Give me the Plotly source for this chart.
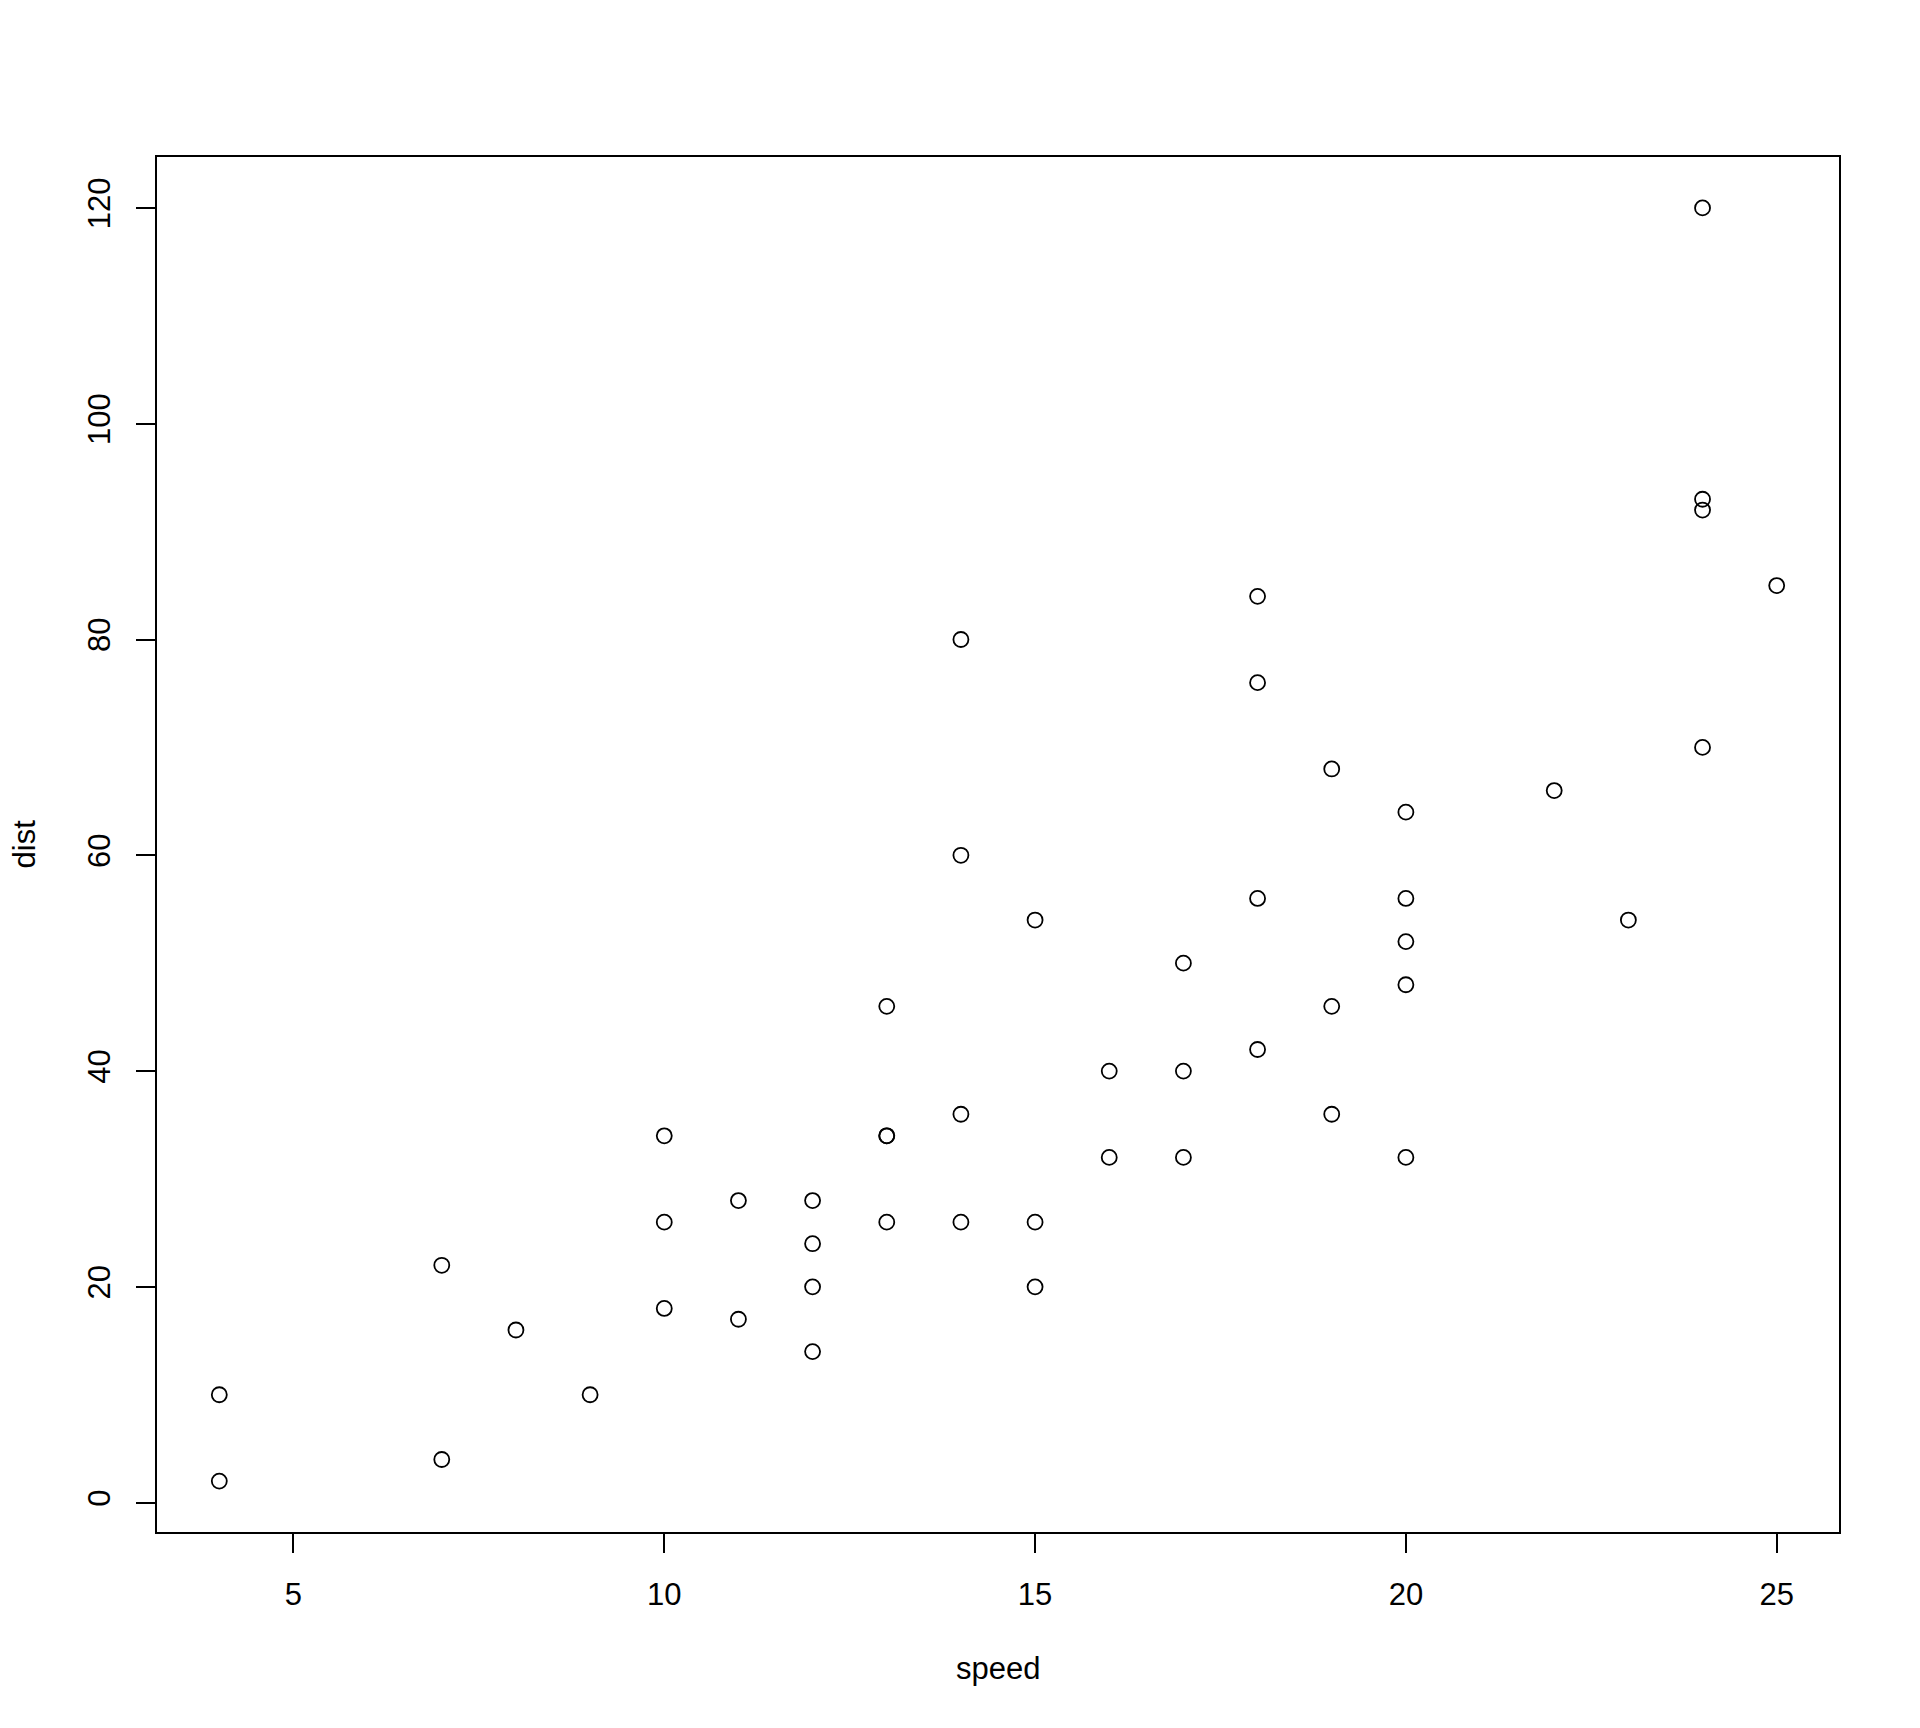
import plotly.graph_objects as go

speed = [4, 4, 7, 7, 8, 9, 10, 10, 10, 11, 11, 12, 12, 12, 12, 13, 13, 13, 13, 14,
         14, 14, 14, 15, 15, 15, 16, 16, 17, 17, 17, 18, 18, 18, 18, 19, 19, 19, 20, 20,
         20, 20, 20, 22, 23, 24, 24, 24, 24, 25]
dist = [2, 10, 4, 22, 16, 10, 18, 26, 34, 17, 28, 14, 20, 24, 28, 26, 34, 34, 46, 26,
        36, 60, 80, 20, 26, 54, 32, 40, 32, 40, 50, 42, 56, 76, 84, 36, 46, 68, 32, 48,
        52, 56, 64, 66, 54, 70, 92, 93, 120, 85]
x_ticks = [5, 10, 15, 20, 25]
y_ticks = [0, 20, 40, 60, 80, 100, 120]

OFF = 8  # page body margin
W, H = 1920 - OFF, 1728 - OFF
PL, PR, PT, PB = 157, 1839, 157, 1532  # plot box in page pixels
L, R, T, B = PL - OFF, 1920 - PR, PT - OFF, 1728 - PB
PW, PH = PR - PL, PB - PT
FONT = "Liberation Sans, Arial, Helvetica, sans-serif"
FS = 31

def ext(lo, hi):
    d = (hi - lo) * 0.04
    return [lo - d, hi + d]

fig = go.Figure(go.Scatter(
    x=speed, y=dist, mode="markers",
    marker=dict(symbol="circle-open", size=15, color="black", line=dict(width=1.8, color="black")),
    showlegend=False, hoverinfo="x+y",
))

axis_common = dict(
    showgrid=False, zeroline=False, showline=True, mirror=True,
    linecolor="black", linewidth=1.5, ticks="outside", ticklen=19, tickwidth=1.5,
    tickcolor="black", tickfont=dict(family=FONT, size=FS, color="black"),
)
fig.update_xaxes(range=ext(min(speed), max(speed)), tickmode="array", tickvals=x_ticks,
                 ticktext=[str(v) for v in x_ticks], ticklabelstandoff=15, **axis_common)
fig.update_yaxes(range=ext(min(dist), max(dist)), tickmode="array", tickvals=y_ticks,
                 ticktext=[str(v) for v in y_ticks], tickangle=-90, ticklabelstandoff=14,
                 **axis_common)

fig.add_annotation(text="speed", xref="paper", yref="paper", x=0.5,
                   y=-(1668 - PB) / PH, xanchor="center", yanchor="middle",
                   showarrow=False, font=dict(family=FONT, size=FS, color="black"))
fig.add_annotation(text="dist", xref="paper", yref="paper", x=-(PL - 24) / PW,
                   y=0.5, xanchor="center", yanchor="middle", textangle=-90,
                   showarrow=False, font=dict(family=FONT, size=FS, color="black"))

fig.update_layout(width=W, height=H, margin=dict(l=L, r=R, t=T, b=B),
                  paper_bgcolor="white", plot_bgcolor="white")
fig.write_html("out.html")
